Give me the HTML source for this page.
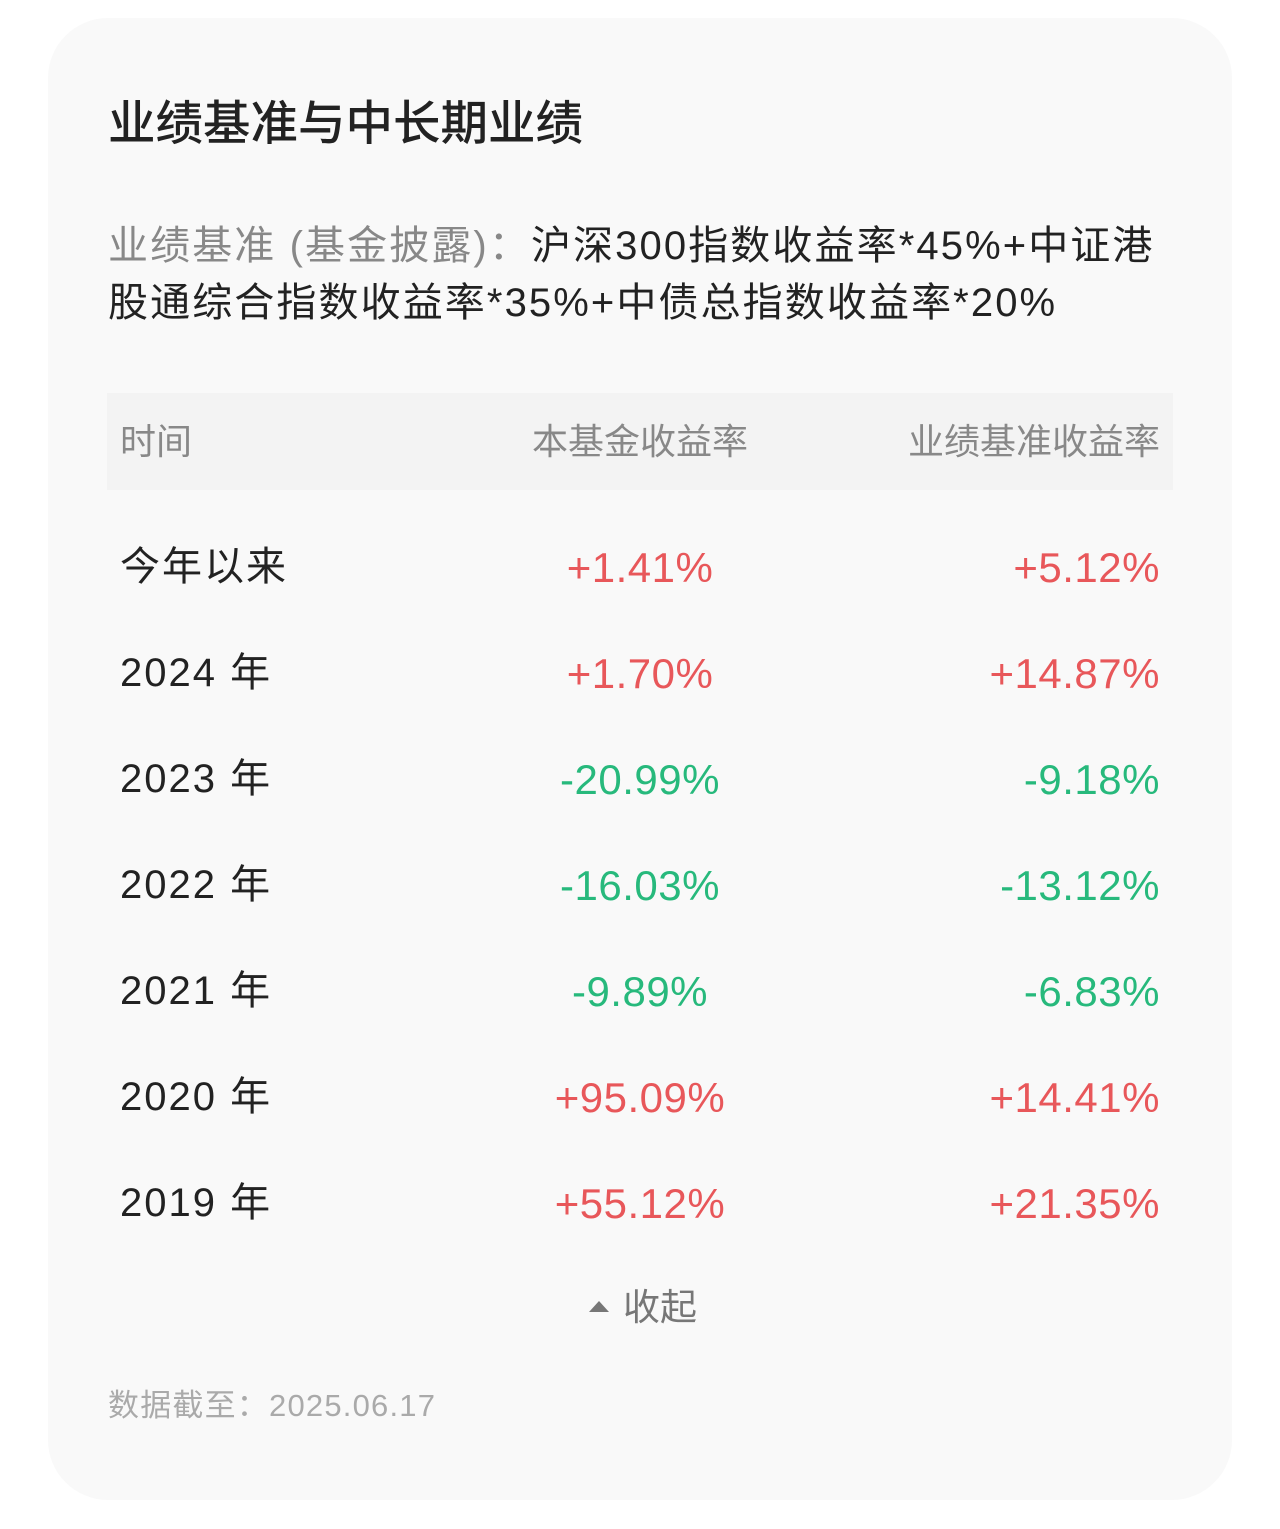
<!DOCTYPE html>
<html><head><meta charset="utf-8"><style>
body{margin:0;background:#fff;width:1280px;height:1529px;position:relative;font-family:"Liberation Sans","Noto Sans CJK SC",sans-serif;}
.card{position:absolute;left:48px;top:18px;width:1184px;height:1482px;background:#f9f9f9;border-radius:60px;}
.a{position:absolute;white-space:nowrap;line-height:1;}
.t{left:108px;top:101px;font-size:47.5px;color:#222;font-weight:500;}
.b{left:108px;font-size:40px;color:#222;letter-spacing:2.1px;}
.hd{position:absolute;left:107px;top:393px;width:1066px;height:97px;background:#f3f3f3;}
.h{font-size:36px;color:#888;top:424px;}
.l{left:120px;font-size:40px;color:#222;letter-spacing:2px;}
.c{left:440px;width:400px;text-align:center;font-size:42px;letter-spacing:0.5px;}
.r{right:120px;font-size:42px;text-align:right;letter-spacing:0.5px;}
.red{color:#e8575a}.grn{color:#27b97c}
</style></head><body>
<div class="card"></div>
<div class="a t">业绩基准与中长期业绩</div>
<div class="a b" style="top:226px"><span style="color:#888">业绩基准 (基金披露)：</span>沪深300指数收益率*45%+中证港</div>
<div class="a b" style="top:283px">股通综合指数收益率*35%+中债总指数收益率*20%</div>
<div class="hd"></div>
<div class="a h" style="left:120px">时间</div>
<div class="a h" style="left:440px;width:400px;text-align:center">本基金收益率</div>
<div class="a h" style="right:120px">业绩基准收益率</div>

<div class="a l" style="top:547px">今年以来</div><div class="a c red" style="top:547px">+1.41%</div><div class="a r red" style="top:547px">+5.12%</div>
<div class="a l" style="top:653px">2024 年</div><div class="a c red" style="top:653px">+1.70%</div><div class="a r red" style="top:653px">+14.87%</div>
<div class="a l" style="top:759px">2023 年</div><div class="a c grn" style="top:759px">-20.99%</div><div class="a r grn" style="top:759px">-9.18%</div>
<div class="a l" style="top:865px">2022 年</div><div class="a c grn" style="top:865px">-16.03%</div><div class="a r grn" style="top:865px">-13.12%</div>
<div class="a l" style="top:971px">2021 年</div><div class="a c grn" style="top:971px">-9.89%</div><div class="a r grn" style="top:971px">-6.83%</div>
<div class="a l" style="top:1077px">2020 年</div><div class="a c red" style="top:1077px">+95.09%</div><div class="a r red" style="top:1077px">+14.41%</div>
<div class="a l" style="top:1183px">2019 年</div><div class="a c red" style="top:1183px">+55.12%</div><div class="a r red" style="top:1183px">+21.35%</div>

<svg class="a" style="left:588px;top:1300px" width="22" height="14"><polygon points="11,1 21,12 1,12" fill="#777"/></svg>
<div class="a" style="left:623px;top:1289px;font-size:37px;color:#777">收起</div>
<div class="a" style="left:108px;top:1390px;font-size:31px;color:#aaa;letter-spacing:1.2px">数据截至：2025.06.17</div>
</body></html>
